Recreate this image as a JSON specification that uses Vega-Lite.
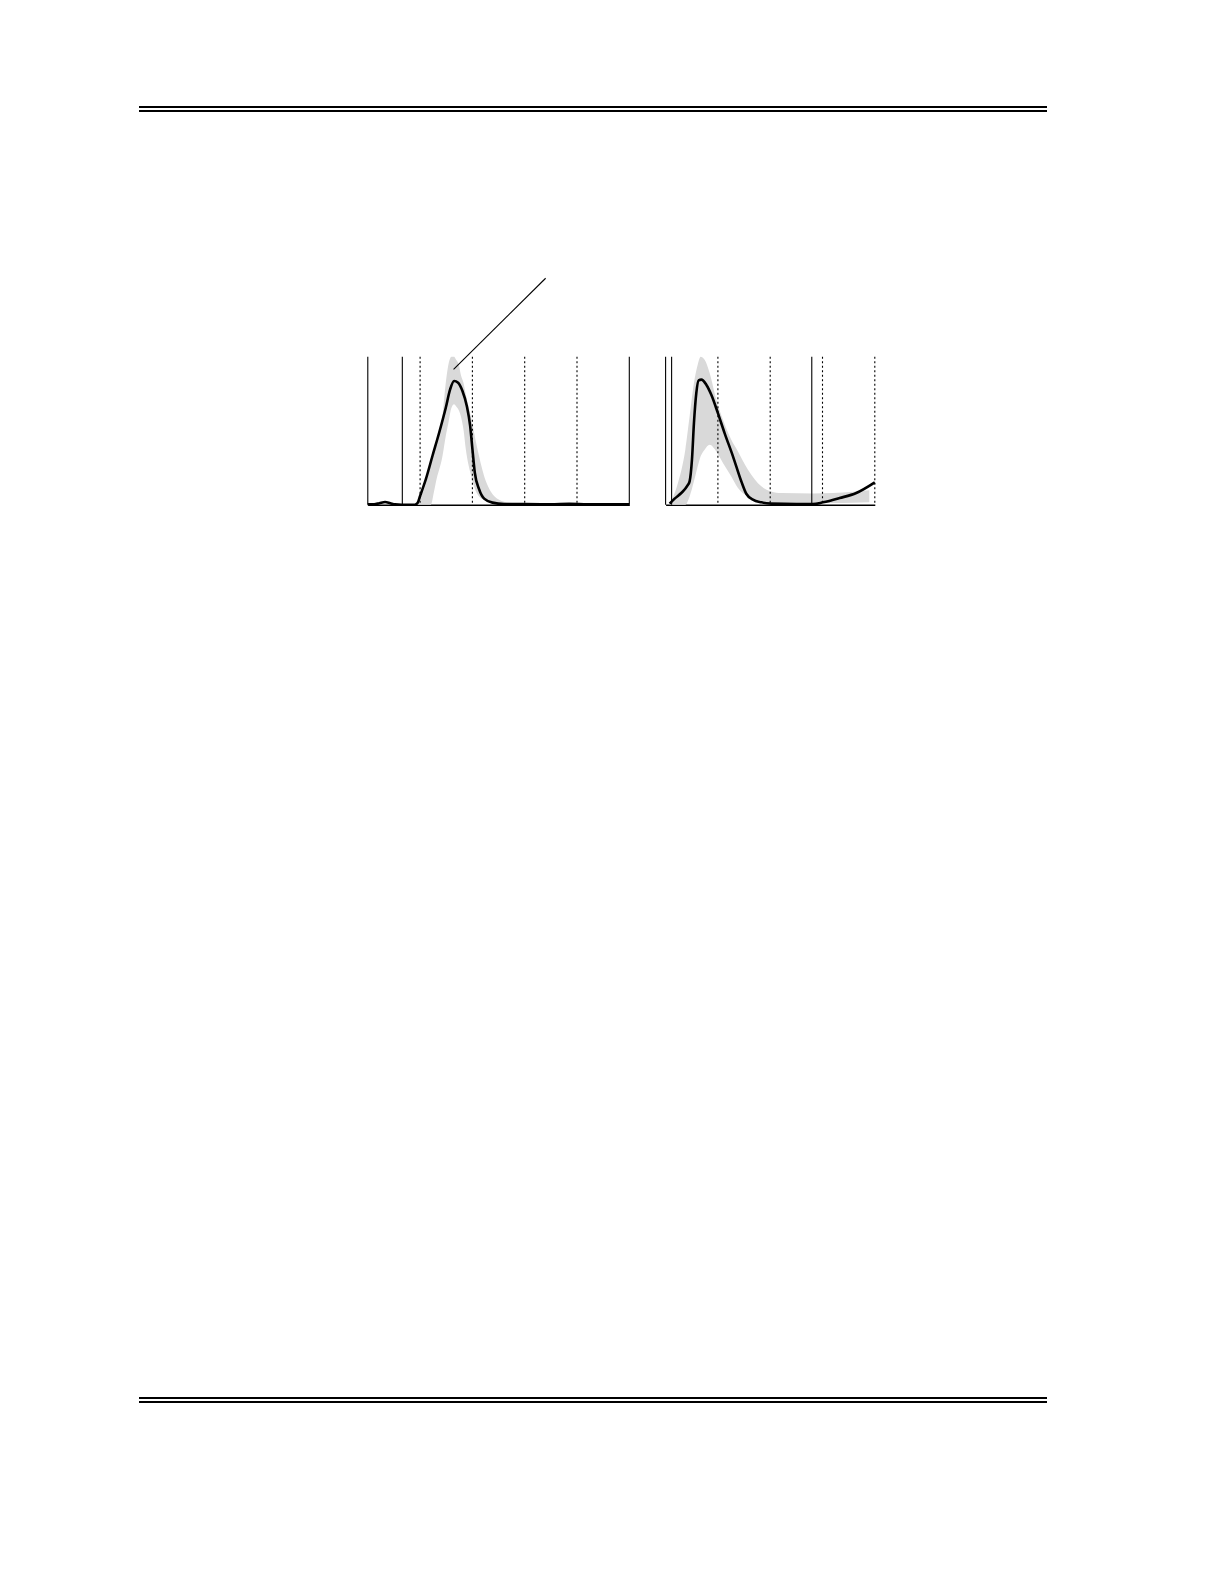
{
  "$schema": "https://vega.github.io/schema/vega-lite/v6.json",
  "background": "white",
  "padding": {"left": 138, "top": 106, "right": 177, "bottom": 175},
  "datasets": {
    "rules": [{"line": 0}, {"line": 1}],
    "curveL": [
      {"x": 0, "y": 0.002}, {"x": 0.12, "y": 0.003}, {"x": 0.22, "y": 0.01}, {"x": 0.33, "y": 0.018},
      {"x": 0.43, "y": 0.01}, {"x": 0.52, "y": 0.002}, {"x": 0.65, "y": 0}, {"x": 0.9, "y": 0},
      {"x": 0.95, "y": 0.01}, {"x": 1.0, "y": 0.059}, {"x": 1.109, "y": 0.171}, {"x": 1.236, "y": 0.329},
      {"x": 1.364, "y": 0.486}, {"x": 1.491, "y": 0.655}, {"x": 1.574, "y": 0.779}, {"x": 1.65, "y": 0.836},
      {"x": 1.727, "y": 0.824}, {"x": 1.81, "y": 0.768}, {"x": 1.893, "y": 0.667}, {"x": 1.957, "y": 0.532},
      {"x": 2.001, "y": 0.374}, {"x": 2.046, "y": 0.216}, {"x": 2.129, "y": 0.104}, {"x": 2.225, "y": 0.041},
      {"x": 2.384, "y": 0.014}, {"x": 2.607, "y": 0.005}, {"x": 3.0, "y": 0.004}, {"x": 3.5, "y": 0.003},
      {"x": 3.85, "y": 0.006}, {"x": 4.2, "y": 0.003}, {"x": 5.0, "y": 0.002}
    ],
    "bandL": [
      {"x": 0.918, "lo": 0, "hi": 0}, {"x": 1.077, "lo": 0, "hi": 0.104}, {"x": 1.205, "lo": 0, "hi": 0.273},
      {"x": 1.268, "lo": 0.092, "hi": 0.351}, {"x": 1.3, "lo": 0.149, "hi": 0.396}, {"x": 1.428, "lo": 0.329, "hi": 0.599},
      {"x": 1.491, "lo": 0.464, "hi": 0.824}, {"x": 1.536, "lo": 0.543, "hi": 0.937}, {"x": 1.6, "lo": 0.655, "hi": 1.0},
      {"x": 1.65, "lo": 0.678, "hi": 1.0}, {"x": 1.683, "lo": 0.667, "hi": 0.982}, {"x": 1.746, "lo": 0.633, "hi": 0.937},
      {"x": 1.778, "lo": 0.599, "hi": 0.88}, {"x": 1.829, "lo": 0.509, "hi": 0.824}, {"x": 1.874, "lo": 0.374, "hi": 0.745},
      {"x": 1.969, "lo": 0.205, "hi": 0.599}, {"x": 2.097, "lo": 0.07, "hi": 0.374}, {"x": 2.256, "lo": 0.025, "hi": 0.16},
      {"x": 2.35, "lo": 0.012, "hi": 0.09}, {"x": 2.51, "lo": 0.006, "hi": 0.034}, {"x": 2.7, "lo": 0.004, "hi": 0.014},
      {"x": 3.0, "lo": 0, "hi": 0.01}, {"x": 5.0, "lo": 0, "hi": 0.008}
    ],
    "linesL": [
      {"x": 0, "style": "solid"}, {"x": 0.66, "style": "solid"}, {"x": 1, "style": "dotted"},
      {"x": 2, "style": "dotted"}, {"x": 3, "style": "dotted"}, {"x": 4, "style": "dotted"}, {"x": 5, "style": "solid"}
    ],
    "leader": [{"x": 1.64, "y": 0.914, "x2": 3.4, "y2": 1.53}],
    "curveR": [
      {"x": 0.077, "y": 0.007}, {"x": 0.173, "y": 0.041}, {"x": 0.3, "y": 0.079}, {"x": 0.42, "y": 0.13},
      {"x": 0.459, "y": 0.158}, {"x": 0.504, "y": 0.304}, {"x": 0.542, "y": 0.552}, {"x": 0.587, "y": 0.754},
      {"x": 0.632, "y": 0.84}, {"x": 0.683, "y": 0.845}, {"x": 0.778, "y": 0.811}, {"x": 0.874, "y": 0.743},
      {"x": 1.0, "y": 0.619}, {"x": 1.128, "y": 0.484}, {"x": 1.288, "y": 0.327}, {"x": 1.447, "y": 0.158},
      {"x": 1.543, "y": 0.074}, {"x": 1.67, "y": 0.034}, {"x": 1.83, "y": 0.016}, {"x": 2.02, "y": 0.007},
      {"x": 2.5, "y": 0.004}, {"x": 2.817, "y": 0.004}, {"x": 3.01, "y": 0.016}, {"x": 3.327, "y": 0.045},
      {"x": 3.645, "y": 0.079}, {"x": 4.0, "y": 0.151}
    ],
    "bandR": [
      {"x": 0.077, "lo": 0, "hi": 0}, {"x": 0.236, "lo": 0, "hi": 0.146}, {"x": 0.377, "lo": 0, "hi": 0.372},
      {"x": 0.459, "lo": 0.056, "hi": 0.597}, {"x": 0.542, "lo": 0.158, "hi": 0.822}, {"x": 0.606, "lo": 0.248, "hi": 0.935},
      {"x": 0.67, "lo": 0.327, "hi": 1.0}, {"x": 0.746, "lo": 0.372, "hi": 0.98}, {"x": 0.842, "lo": 0.405, "hi": 0.89},
      {"x": 0.969, "lo": 0.36, "hi": 0.709}, {"x": 1.097, "lo": 0.282, "hi": 0.574}, {"x": 1.256, "lo": 0.191, "hi": 0.439},
      {"x": 1.384, "lo": 0.113, "hi": 0.36}, {"x": 1.575, "lo": 0.056, "hi": 0.236}, {"x": 1.83, "lo": 0.023, "hi": 0.124},
      {"x": 2.02, "lo": 0.016, "hi": 0.09}, {"x": 2.212, "lo": 0.011, "hi": 0.079}, {"x": 2.817, "lo": 0.01, "hi": 0.076},
      {"x": 3.2, "lo": 0.011, "hi": 0.079}, {"x": 3.582, "lo": 0.014, "hi": 0.088}, {"x": 3.895, "lo": 0.016, "hi": 0.097}
    ],
    "linesR": [
      {"x": 0, "style": "solid"}, {"x": 0.115, "style": "solid"}, {"x": 1, "style": "dotted"},
      {"x": 2, "style": "dotted"}, {"x": 2.795, "style": "solid"}, {"x": 3, "style": "dotted"}, {"x": 4, "style": "dotted"}
    ]
  },
  "bounds": "flush",
  "spacing": 1291,
  "vconcat": [
    {
      "bounds": "flush",
      "spacing": 245.7,
      "vconcat": [
        {
          "width": 908,
          "height": 4,
          "data": {"name": "rules"},
          "mark": {"type": "rule", "strokeWidth": 2, "color": "black"},
          "encoding": {
            "y": {"field": "line", "type": "quantitative", "axis": null, "scale": {"domain": [0, 1]}}
          }
        },
        {
          "bounds": "flush",
          "spacing": 35.8,
          "hconcat": [
            {
              "width": 192.2,
              "height": 148,
              "data": {"values": [{}]},
              "mark": {"type": "point", "opacity": 0}
            },
            {
              "width": 261.5,
              "height": 148,
              "layer": [
                {
                  "data": {"name": "bandL"},
                  "mark": {"type": "area", "color": "#d9d9d9", "interpolate": "monotone"},
                  "encoding": {
                    "x": {"field": "x", "type": "quantitative", "scale": {"domain": [0, 5], "nice": false, "zero": false},
                          "axis": {"domain": true, "domainColor": "black", "domainWidth": 1.5, "ticks": false, "labels": false, "grid": false, "title": null}},
                    "y": {"field": "lo", "type": "quantitative", "scale": {"domain": [0, 1], "nice": false}, "axis": null},
                    "y2": {"field": "hi"}
                  }
                },
                {
                  "data": {"name": "linesL"},
                  "mark": {"type": "rule", "color": "black", "strokeWidth": 1.1},
                  "encoding": {
                    "x": {"field": "x", "type": "quantitative"},
                    "strokeDash": {"field": "style", "type": "nominal", "legend": null,
                                   "scale": {"domain": ["solid", "dotted"], "range": [[1, 0], [2, 2.5]]}}
                  }
                },
                {
                  "data": {"name": "curveL"},
                  "mark": {"type": "line", "color": "black", "strokeWidth": 2.6, "interpolate": "monotone"},
                  "encoding": {
                    "x": {"field": "x", "type": "quantitative"},
                    "y": {"field": "y", "type": "quantitative"}
                  }
                },
                {
                  "data": {"name": "leader"},
                  "mark": {"type": "rule", "color": "black", "strokeWidth": 1.1},
                  "encoding": {
                    "x": {"field": "x", "type": "quantitative"},
                    "y": {"field": "y", "type": "quantitative"},
                    "x2": {"field": "x2"},
                    "y2": {"field": "y2"}
                  }
                }
              ]
            },
            {
              "width": 209.2,
              "height": 148,
              "layer": [
                {
                  "data": {"name": "bandR"},
                  "mark": {"type": "area", "color": "#d9d9d9", "interpolate": "monotone"},
                  "encoding": {
                    "x": {"field": "x", "type": "quantitative", "scale": {"domain": [0, 4], "nice": false, "zero": false},
                          "axis": {"domain": true, "domainColor": "black", "domainWidth": 1.5, "ticks": false, "labels": false, "grid": false, "title": null}},
                    "y": {"field": "lo", "type": "quantitative", "scale": {"domain": [0, 1], "nice": false}, "axis": null},
                    "y2": {"field": "hi"}
                  }
                },
                {
                  "data": {"name": "linesR"},
                  "mark": {"type": "rule", "color": "black", "strokeWidth": 1.1},
                  "encoding": {
                    "x": {"field": "x", "type": "quantitative"},
                    "strokeDash": {"field": "style", "type": "nominal", "legend": null,
                                   "scale": {"domain": ["solid", "dotted"], "range": [[1, 0], [2, 2.5]]}}
                  }
                },
                {
                  "data": {"name": "curveR"},
                  "mark": {"type": "line", "color": "black", "strokeWidth": 2.6, "interpolate": "monotone"},
                  "encoding": {
                    "x": {"field": "x", "type": "quantitative"},
                    "y": {"field": "y", "type": "quantitative"}
                  }
                }
              ]
            }
          ]
        }
      ]
    },
    {
      "width": 908,
      "height": 4,
      "data": {"name": "rules"},
      "mark": {"type": "rule", "strokeWidth": 2, "color": "black"},
      "encoding": {
        "y": {"field": "line", "type": "quantitative", "axis": null, "scale": {"domain": [0, 1]}}
      }
    }
  ],
  "config": {
    "view": {"stroke": null},
    "axis": {"grid": false}
  }
}
